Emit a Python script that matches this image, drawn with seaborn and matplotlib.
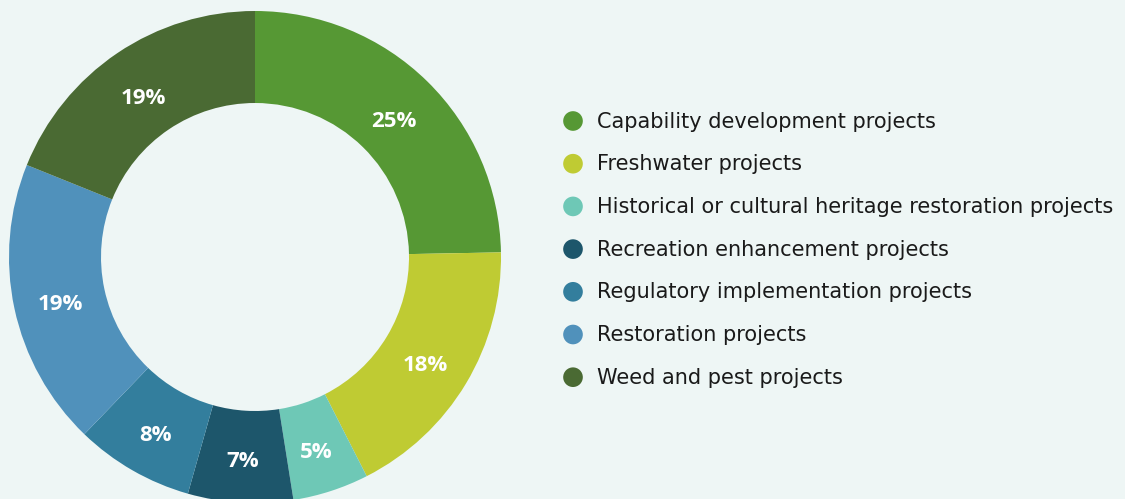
import matplotlib
matplotlib.use("Agg")
import matplotlib.pyplot as plt
import seaborn as sns

categories = [
    "Capability development projects",
    "Freshwater projects",
    "Historical or cultural heritage restoration projects",
    "Recreation enhancement projects",
    "Regulatory implementation projects",
    "Restoration projects",
    "Weed and pest projects",
]
values = [24.7, 17.8, 5.0, 6.9, 7.8, 18.9, 18.9]
colors = ["#569834", "#BFCB33", "#6EC8B6", "#1D566B", "#337E9D", "#5091BB", "#4A6A33"]

BG = "#EEF6F5"
sns.set_theme(style="white")
plt.rcParams["font.family"] = ["Open Sans", "DejaVu Sans"]

W, H = 1125, 499
fig = plt.figure(figsize=(W / 100, H / 100), dpi=100, facecolor=BG)

# Donut axes: center (255, 257) px, radius 246 px
cx, cy, r = 255, 257, 246
ax = fig.add_axes([(cx - r) / W, (H - (cy + r)) / H, 2 * r / W, 2 * r / H])
ax.set_facecolor(BG)
ring = 0.374
wedges, _, autotexts = ax.pie(
    values,
    colors=colors,
    startangle=90,
    counterclock=False,
    radius=1,
    wedgeprops=dict(width=ring, edgecolor="none"),
    autopct=lambda p: f"{p:.0f}%",
    pctdistance=1 - ring / 2 - 0.005,
    textprops=dict(color="white", fontsize=16, fontweight="bold"),
)
for t in autotexts:
    x, y = t.get_position()
    t.set_position((x, y - 0.025))
ax.set_xlim(-1, 1)
ax.set_ylim(-1, 1)
ax.axis("off")

# Legend (manual, in pixel space)
lax = fig.add_axes([0, 0, 1, 1])
lax.set_xlim(0, W)
lax.set_ylim(H, 0)
lax.axis("off")
y0, dy = 121.5, 42.7
for i, (cat, col) in enumerate(zip(categories, colors)):
    y = y0 + i * dy
    lax.scatter([573], [y - 0.5], s=200, color=col, edgecolor="none")
    lax.text(597, y, cat, fontsize=15, color="#1a1a1a", va="center", ha="left",
             family=["DejaVu Sans"])

fig.savefig("out.png", dpi=100, facecolor=BG)
